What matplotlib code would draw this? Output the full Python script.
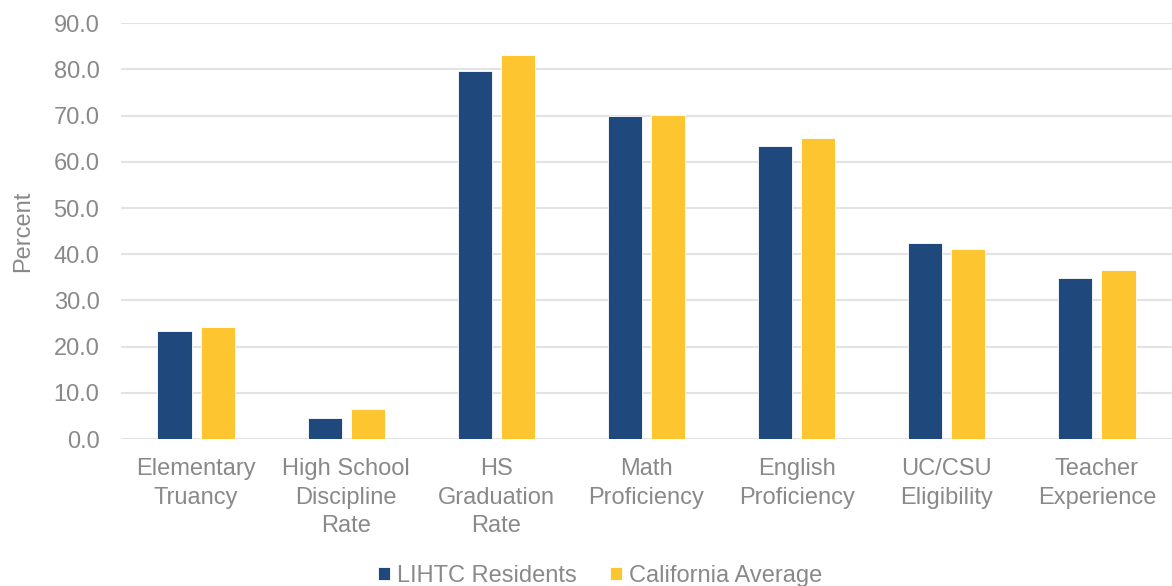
import matplotlib
matplotlib.use("Agg")
import matplotlib.pyplot as plt
import numpy as np

categories = ["Elementary\nTruancy", "High School\nDiscipline\nRate", "HS\nGraduation\nRate",
              "Math\nProficiency", "English\nProficiency", "UC/CSU\nEligibility", "Teacher\nExperience"]
lihtc = [23.4, 4.5, 79.7, 69.9, 63.4, 42.4, 34.9]
california = [24.2, 6.4, 83.2, 70.1, 65.1, 41.2, 36.5]
series_names = ["LIHTC Residents", "California Average"]
yticks = [0, 10, 20, 30, 40, 50, 60, 70, 80, 90]

plt.rcParams['font.family'] = ['Liberation Sans', 'DejaVu Sans']
gray = '#898989'
navy = '#1f497d'
gold = '#fdc52f'
fs = 17

fig = plt.figure(figsize=(11.72, 5.86), dpi=100)
ax = fig.add_axes([121/1172, 1-439/586, 1-121/1172, (439-23.3)/586])

x = np.arange(len(categories))
w = 0.227
gap = 0.06
ax.bar(x - (w+gap)/2, lihtc, w, color=navy, edgecolor='#ffffff', linewidth=0.6, label=series_names[0], zorder=3)
ax.bar(x + (w+gap)/2, california, w, color=gold, edgecolor='#ffffff', linewidth=0.6, label=series_names[1], zorder=3)

ax.set_xlim(-0.5, len(categories)-0.5)
ax.set_ylim(0, 90)
ax.set_yticks(yticks)
ax.set_yticklabels([f"{v:.1f}" for v in yticks])
ax.set_xticks(x)
ax.set_xticklabels(categories, linespacing=1.37)
ax.tick_params(axis='both', length=0, labelsize=fs, colors=gray)
ax.tick_params(axis='x', pad=14)
ax.tick_params(axis='y', pad=15.5)
ax.grid(axis='y', color='#e3e3e3', linewidth=1.5, zorder=0)
for s in ax.spines.values():
    s.set_visible(False)
ax.set_ylabel("Percent", fontsize=fs, color=gray)
ax.yaxis.set_label_coords(-0.0828, 0.5)

leg = fig.legend(loc='center', bbox_to_anchor=(0.512, 1-576/586), ncol=2, frameon=False,
                 fontsize=fs, handlelength=0.5, handleheight=0.5, handletextpad=0.3, columnspacing=1.4)
for t in leg.get_texts():
    t.set_color(gray)

fig.savefig("out.png", dpi=100)
